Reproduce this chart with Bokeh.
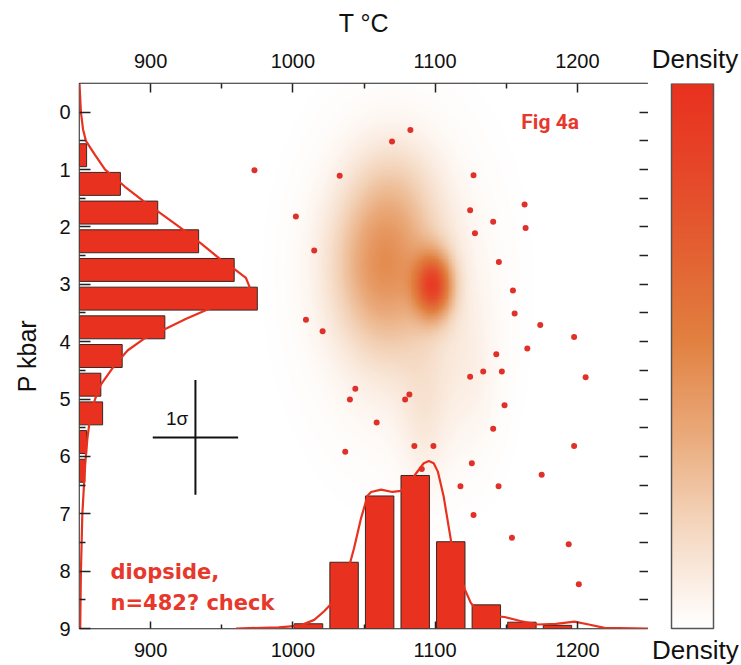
import numpy as np
from bokeh.plotting import figure
from bokeh.layouts import row
from bokeh.models import Range1d, LinearAxis, FixedTicker, LinearColorMapper
from bokeh.core.properties import value
from bokeh.embed import file_html
from bokeh.resources import INLINE

# ---------------- data ----------------
# pressure histogram (left margin): bin centres in kbar and counts
p_bin_centers = [0.75, 1.25, 1.75, 2.25, 2.75, 3.25, 3.75, 4.25, 4.75, 5.25, 5.75, 6.25]
p_counts = [4, 23, 44, 67, 87, 100, 48, 24, 12, 13, 4, 3]

# temperature histogram (bottom margin): bin centres in deg C and counts
t_bin_centers = [1011, 1036, 1061, 1086, 1111, 1136, 1161, 1186]
t_counts = [3, 42, 84, 97, 55, 15, 4, 2]

# smoothed pressure distribution (T position, P)
p_kde_P = [-0.5, 0.0, 0.3, 0.5, 0.75, 1.0, 1.08, 1.3, 1.55, 1.8, 2.06, 2.3, 2.57, 2.72,
           2.89, 3.04, 3.12, 3.25, 3.44, 3.6, 3.76, 3.94, 4.15, 4.4, 4.75, 5.0, 5.27,
           5.7, 6.14, 7.0, 8.0, 9.0]
p_kde_T = [850.0, 851.0, 852.5, 854.5, 861.0, 868.0, 871.8, 882.0, 895.0, 909.0, 923.5,
           936.0, 949.3, 958.0, 967.0, 969.5, 967.0, 956.0, 940.0, 925.0, 911.7, 896.0,
           884.0, 875.0, 865.0, 861.0, 857.7, 855.5, 854.0, 852.0, 851.0, 850.5]

# smoothed temperature distribution (T, P position)
t_kde_T = [960, 990, 1005, 1015, 1022, 1030.3, 1038.5, 1043, 1047.9, 1052.6, 1055, 1062,
           1070, 1076, 1082, 1088, 1092, 1095.6, 1099, 1102, 1106, 1111.3, 1116, 1120.6,
           1125, 1130, 1140, 1148.8, 1160, 1172.3, 1185, 1198, 1208, 1219, 1250]
t_kde_P = [9.0, 8.98, 8.95, 8.85, 8.7, 8.48, 8.01, 7.6, 7.08, 6.68, 6.62, 6.58, 6.62, 6.6,
           6.45, 6.25, 6.12, 6.08, 6.12, 6.27, 6.7, 7.49, 7.95, 8.3, 8.55, 8.71, 8.78,
           8.8, 8.87, 8.93, 8.92, 8.88, 8.93, 8.99, 9.0]

# individual estimates outside the dense core
pt_T = [973.0, 1069.7, 1082.6, 1032.9, 1127.0, 1002.1, 1162.9, 1124.6, 1140.8, 1163.6,
        1128.0, 1015.0, 1144.8, 1154.7, 1155.9, 1009.2, 1020.9, 1173.9, 1197.7, 1164.8,
        1143.0, 1124.6, 1133.8, 1146.9, 1205.8, 1043.9, 1081.9, 1040.1, 1078.9, 1148.8,
        1058.9, 1140.8, 1085.4, 1098.8, 1197.7, 1036.8, 1125.8, 1090.6, 1174.9, 1117.8,
        1144.6, 1127.0, 1154.0, 1193.9, 1201.0]
pt_P = [1.01, 0.51, 0.31, 1.11, 1.10, 1.82, 1.61, 1.71, 1.91, 2.02,
        2.11, 2.41, 2.61, 3.11, 3.51, 3.62, 3.82, 3.71, 3.92, 4.12,
        4.22, 4.61, 4.52, 4.52, 4.62, 4.82, 4.92, 5.01, 5.01, 5.11,
        5.41, 5.52, 5.82, 5.82, 5.82, 5.92, 6.12, 6.22, 6.32, 6.52,
        6.52, 7.02, 7.42, 7.53, 8.23]

# density field components: centre T, centre P, spread T, spread P, weight
blob_T = [1064.0, 1099.0, 1075.0, 1093.0, 1125.0, 1072.0]
blob_P = [2.6, 3.02, 3.0, 5.3, 4.6, 1.2]
blob_sT = [24.0, 9.0, 36.0, 12.0, 14.0, 20.0]
blob_sP = [1.0, 0.38, 1.6, 0.9, 1.0, 0.6]
blob_w = [0.36, 0.7, 0.12, 0.08, 0.05, 0.06]

# 1-sigma uncertainty cross
sigma_center = (931.5, 5.67)
sigma_T = 30.0
sigma_P = 1.0

t_ticks = [900, 1000, 1100, 1200]
t_minor = [950, 1050, 1150]
p_ticks = list(range(0, 10))
p_minor = [0.5 + i for i in range(9)]
p_right_ticks = [0.5 * i for i in range(18)]

hist_T_per_count = 1.25   # deg C of bar length per count (left histogram)
hist_P_per_count = 0.0275  # kbar of bar height per count (bottom histogram)

RED = "#e8321f"
TEXT_RED = "#e6382b"
FONT = "Liberation Sans"

# ---------------- colour map ----------------
anchors = [(0.0, "#ffffff"), (0.05, "#fdf5ef"), (0.2, "#f3d3b9"), (0.35, "#eaab7c"),
           (0.53, "#e18040"), (0.7, "#e35f31"), (0.85, "#e64528"), (1.0, "#e8311f")]


def hex2rgb(h):
    return np.array([int(h[i:i + 2], 16) for i in (1, 3, 5)], dtype=float)


palette = []
for v in np.linspace(0, 1, 256):
    for (a0, c0), (a1, c1) in zip(anchors[:-1], anchors[1:]):
        if a0 <= v <= a1:
            f = (v - a0) / (a1 - a0)
            rgb = hex2rgb(c0) * (1 - f) + hex2rgb(c1) * f
            palette.append("#%02x%02x%02x" % tuple(int(round(x)) for x in rgb))
            break
mapper = LinearColorMapper(palette=palette, low=0, high=1)

# ---------------- density grid ----------------
gT = np.linspace(850, 1250, 401)
gP = np.linspace(-0.5, 9, 381)
TT, PP = np.meshgrid(gT, gP)
dens = np.zeros_like(TT)
for t0, p0, st, sp, w in zip(blob_T, blob_P, blob_sT, blob_sP, blob_w):
    dens += w * np.exp(-0.5 * ((TT - t0) / st) ** 2 - 0.5 * ((PP - p0) / sp) ** 2)
dens = np.clip(dens, 0, 1)

# ---------------- main panel ----------------
p = figure(width=648, height=665, x_range=Range1d(850, 1250), y_range=Range1d(9, -0.5),
           output_backend="svg", toolbar_location=None,
           x_axis_location=None, y_axis_location=None,
           min_border_left=79, min_border_right=0, min_border_top=83, min_border_bottom=37)
p.frame_align = False
p.outline_line_color = "#222222"
p.outline_line_width = 1.5
p.xgrid.visible = False
p.ygrid.visible = False
p.background_fill_color = "white"
p.border_fill_color = "white"

p.image(image=[dens], x=850, y=-0.5, dw=400, dh=9.5, color_mapper=mapper)


def style_axis(ax, tick_in, minor_in):
    ax.axis_line_color = None
    ax.major_tick_in = tick_in
    ax.major_tick_out = 0
    ax.minor_tick_in = minor_in
    ax.minor_tick_out = 0
    ax.major_tick_line_color = "#222222"
    ax.minor_tick_line_color = "#222222"
    ax.major_tick_line_width = 1.5
    ax.minor_tick_line_width = 1.5
    ax.major_label_text_font = FONT
    ax.major_label_text_font_size = "20px"
    ax.major_label_text_color = "#111111"
    ax.axis_label_text_font = FONT
    ax.axis_label_text_font_style = "normal"
    ax.axis_label_text_font_size = "25px"
    ax.axis_label_text_color = "#111111"


top_ax = LinearAxis(ticker=FixedTicker(ticks=t_ticks, minor_ticks=t_minor), axis_label="T °C")
style_axis(top_ax, 9, 5)
top_ax.major_label_standoff = 16
top_ax.axis_label_standoff = 14
p.add_layout(top_ax, "above")

bot_ax = LinearAxis(ticker=FixedTicker(ticks=t_ticks, minor_ticks=t_minor))
style_axis(bot_ax, 7, 4)
bot_ax.major_label_standoff = 14
p.add_layout(bot_ax, "below")

left_ax = LinearAxis(ticker=FixedTicker(ticks=p_ticks, minor_ticks=p_minor), axis_label="P kbar")
style_axis(left_ax, 11, 6)
left_ax.major_label_standoff = 9
left_ax.axis_label_standoff = 15
p.add_layout(left_ax, "left")

# right edge: inward ticks only
right_ax = LinearAxis(ticker=FixedTicker(ticks=p_right_ticks, minor_ticks=[]))
style_axis(right_ax, 9, 0)
right_ax.major_label_text_font_size = "0px"
right_ax.major_label_text_color = None
right_ax.major_label_standoff = 0
p.add_layout(right_ax, "right")

# marginal histograms
p_len = [c * hist_T_per_count for c in p_counts]
p.hbar(y=p_bin_centers, left=850, right=[850 + v for v in p_len], height=0.4,
       fill_color=RED, line_color="#3a2622", line_width=1)
t_len = [c * hist_P_per_count for c in t_counts]
p.vbar(x=t_bin_centers, bottom=9, top=[9 - v for v in t_len], width=20,
       fill_color=RED, line_color="#3a2622", line_width=1)

# smoothed distributions
p.line(p_kde_T, p_kde_P, line_color=RED, line_width=2.2)
p.line(t_kde_T, t_kde_P, line_color=RED, line_width=2.2)

# scattered estimates
p.scatter(pt_T, pt_P, size=6, fill_color="#e0302a", line_color=None)

# 1 sigma cross
cx, cy = sigma_center
p.segment(x0=[cx - sigma_T, cx], y0=[cy, cy - sigma_P], x1=[cx + sigma_T, cx], y1=[cy, cy + sigma_P],
          line_color="#111111", line_width=2)
p.text(x=[cx - 5], y=[cy - 0.15], text=["1σ"], text_align="right", text_baseline="bottom",
       text_font=value(FONT), text_font_size="19px", text_color="#111111")

# annotations
p.text(x=[1160.6], y=[0.17], text=["Fig 4a"], text_align="left", text_baseline="middle",
       text_font=value("Roboto"), text_font_style="bold", text_font_size="21px",
       text_color=TEXT_RED)
p.text(x=[871.8, 871.8], y=[8.02, 8.56], text=["diopside,", "n=482? check"],
       text_align="left", text_baseline="middle",
       text_font=value("DejaVu Sans"), text_font_style="bold", text_font_size="21px",
       text_color=TEXT_RED)

# ---------------- colour bar ----------------
# the bar spans 0..1 in both directions; the frame reaches the bottom edge so the
# caption beneath the bar can be drawn as text inside it
cb = figure(width=93, height=665, x_range=Range1d(-23 / 42, 70 / 42),
            y_range=Range1d(-37 / 545, 1),
            output_backend="svg", toolbar_location=None,
            x_axis_location=None, y_axis_location=None,
            min_border_left=0, min_border_right=0, min_border_top=83, min_border_bottom=0)
cb.frame_align = False
cb.xgrid.visible = False
cb.ygrid.visible = False
cb.outline_line_color = None
cb.background_fill_color = "white"
cb.border_fill_color = "white"
cb.image(image=[np.linspace(0, 1, 256).reshape(256, 1)], x=0, y=0, dw=1, dh=1,
         color_mapper=mapper)
cb.quad(left=[0], right=[1], bottom=[0], top=[1], fill_color=None,
        line_color="#555555", line_width=1.5)
cb.title.text = "Density"
cb.title.align = "center"
cb.title.text_font = FONT
cb.title.text_font_size = "26px"
cb.title.text_font_style = "normal"
cb.title.text_color = "#111111"
cb.title.standoff = 19
cb.text(x=[0.57], y=[-0.039], text=["Density"], text_align="center",
        text_baseline="alphabetic", text_font=value(FONT), text_font_size="26px",
        text_color="#111111")

layout = row(p, cb)
open("out.html", "w").write(file_html(layout, INLINE))
